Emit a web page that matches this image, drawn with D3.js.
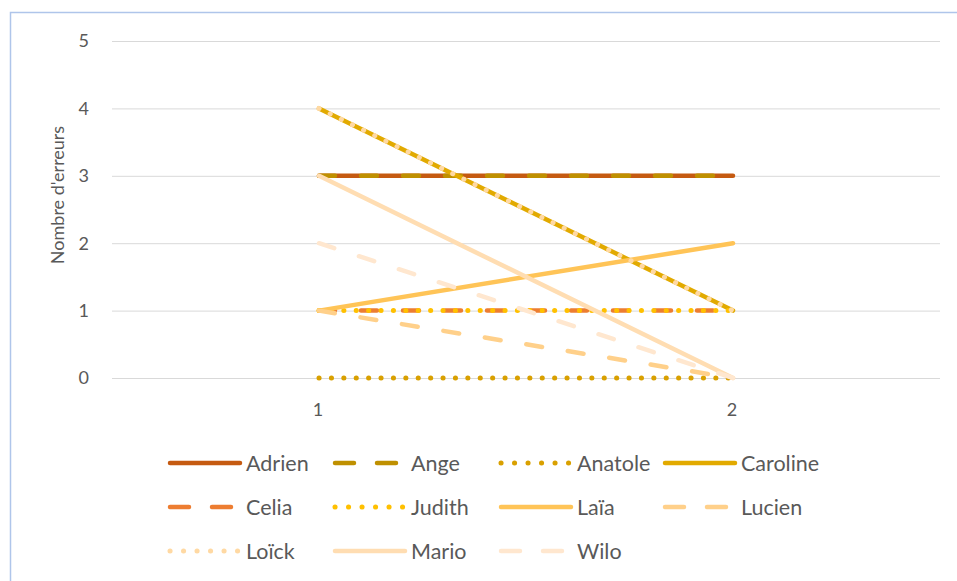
<!DOCTYPE html>
<html>
<head>
<meta charset="utf-8">
<script src="https://cdn.jsdelivr.net/npm/d3@7"></script>
<style>
  body { margin: 0; background: #fff; }
  svg text { font-family: Lato, "Open Sans", sans-serif; fill: #595959; }
</style>
</head>
<body>
<div id="chart"></div>
<script>
// --- data
var categories = ['1', '2'];
var names = ['Adrien', 'Ange', 'Anatole', 'Caroline', 'Celia', 'Judith', 'Laïa', 'Lucien', 'Loïck', 'Mario', 'Wilo'];
var values = [
  [3, 3],  // Adrien
  [3, 3],  // Ange
  [0, 0],  // Anatole
  [4, 1],  // Caroline
  [1, 1],  // Celia
  [1, 1],  // Judith
  [1, 2],  // Laïa
  [1, 0],  // Lucien
  [4, 1],  // Loïck
  [3, 0],  // Mario
  [2, 0]   // Wilo
];
var yTicks = [0, 1, 2, 3, 4, 5];

// styles per series (colour + line type)
var colors = ['#C55A11', '#BF9000', '#D9A000', '#E2AA00', '#ED7D31', '#FFC000', '#FFC457', '#FFD08A', '#FFD9A3', '#FFDDB2', '#FFE7CF'];
var kinds = ['solid', 'dash', 'dot', 'solid', 'dash', 'dot', 'solid', 'dash', 'dot', 'solid', 'dash'];

var W = 957, H = 581;
var svg = d3.select('#chart').append('svg')
    .attr('width', W)
    .attr('height', H);

// chart border
svg.append('rect')
    .attr('x', 10.5).attr('y', 12.5)
    .attr('width', W).attr('height', H)
    .attr('fill', 'none')
    .attr('stroke', '#AFC5EA')
    .attr('stroke-width', 1.5);

var x = d3.scalePoint()
    .domain(categories)
    .range([112, 940])
    .padding(0.5);

var y = d3.scaleLinear()
    .domain([0, 5])
    .range([378, 41]);

// gridlines
svg.append('g')
  .selectAll('line')
  .data(yTicks).enter()
  .append('line')
    .attr('x1', 112).attr('x2', 940)
    .attr('y1', function(d) { return y(d) + 0.5; })
    .attr('y2', function(d) { return y(d) + 0.5; })
    .attr('stroke', '#D9D9D9')
    .attr('stroke-width', 1);

// y tick labels
svg.append('g')
  .selectAll('text')
  .data(yTicks).enter()
  .append('text')
    .attr('x', 89)
    .attr('y', function(d) { return y(d); })
    .attr('dy', '0.35em')
    .attr('text-anchor', 'end')
    .style('font-size', '18px')
    .text(function(d) { return d; });

// x tick labels
svg.append('g')
  .selectAll('text')
  .data(categories).enter()
  .append('text')
    .attr('x', function(d) { return x(d) - 1; })
    .attr('y', 410)
    .attr('dy', '0.35em')
    .attr('text-anchor', 'middle')
    .style('font-size', '18px')
    .text(function(d) { return d; });

// y axis title
svg.append('text')
    .attr('transform', 'translate(58,195) rotate(-90)')
    .attr('text-anchor', 'middle')
    .attr('dy', '0.35em')
    .style('font-size', '18px')
    .text("Nombre d'erreurs");

function dashFor(kind) {
  if (kind == 'dash') return '16,26';
  if (kind == 'dot') return '0.1,12.3';
  return null;
}

var line = d3.line()
    .x(function(d, i) { return x(categories[i]); })
    .y(function(d) { return y(d); });

// series lines
svg.append('g')
  .selectAll('path')
  .data(values).enter()
  .append('path')
    .attr('d', line)
    .attr('fill', 'none')
    .attr('stroke', function(d, i) { return colors[i]; })
    .attr('stroke-width', function(d, i) { return kinds[i] == 'dot' ? 5 : 4.5; })
    .attr('stroke-linecap', 'round')
    .attr('stroke-dasharray', function(d, i) { return dashFor(kinds[i]); });

// legend
var colX = [168, 333, 499, 663];
var rowY = [463, 507, 551];
var legend = svg.append('g')
  .selectAll('g')
  .data(names).enter()
  .append('g')
    .attr('transform', function(d, i) {
      return 'translate(' + colX[i % 4] + ',' + rowY[Math.floor(i / 4)] + ')';
    });

legend.append('line')
    .attr('x1', 2).attr('x2', 72)
    .attr('y1', 0).attr('y2', 0)
    .attr('stroke', function(d, i) { return colors[i]; })
    .attr('stroke-width', function(d, i) { return kinds[i] == 'dot' ? 5 : 4.5; })
    .attr('stroke-linecap', 'round')
    .attr('stroke-dasharray', function(d, i) {
      if (kinds[i] == 'dash') return '19,23';
      if (kinds[i] == 'dot') return '0.1,13.4';
      return null;
    });

legend.append('text')
    .attr('x', 78)
    .attr('y', 0)
    .attr('dy', '0.35em')
    .style('font-size', '21.5px')
    .text(function(d) { return d; });
</script>
</body>
</html>
